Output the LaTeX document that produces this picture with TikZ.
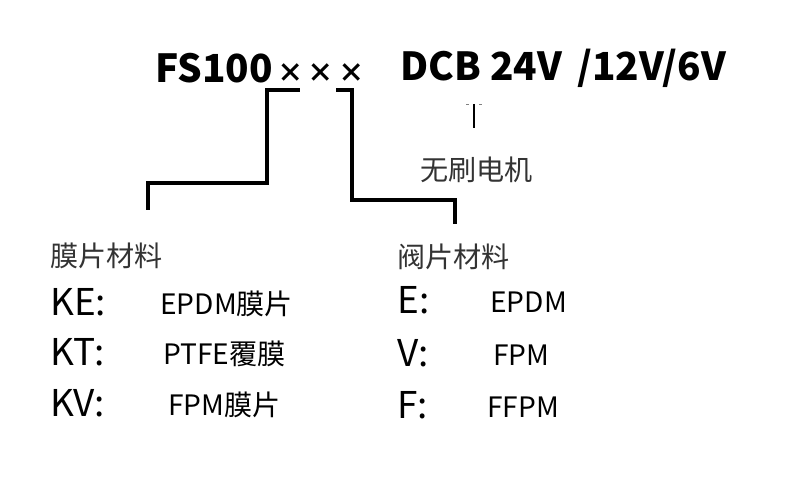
\documentclass[tikz,border=0pt]{standalone}
\usepackage{fontspec}
\setmainfont{Noto Sans CJK SC}
\usetikzlibrary{positioning,calc}
\newcommand{\smx}{{\fontsize{15}{16}\selectfont\,×}}
\begin{document}
\begin{tikzpicture}[x=0.02cm,y=-0.02cm,
    title/.style={anchor=west,inner sep=0pt,font=\fontsize{22}{24}\selectfont\bfseries},
    head/.style={anchor=west,inner sep=0pt,font=\fontsize{16}{18}\selectfont,text=black!80},
    code/.style={anchor=west,inner sep=0pt,font=\fontsize{21}{23}\selectfont},
    val/.style={anchor=west,inner sep=0pt,font=\fontsize{16}{18}\selectfont},
    wire/.style={line width=2.2pt,line cap=rect}]
    % frame
    \useasboundingbox (0,0) rectangle (789,483);

    % title
    \node[title] (model) at (155,68) {FS100\smx\smx\smx};
    \node[title] (volt) at (400,68) {DCB 24V\, /12V/6V};

    % leaders
    \coordinate (lA) at (298,90);
    \coordinate (lB) at (148,208);
    \coordinate (rA) at (338,90);
    \coordinate (rB) at (455,222);
    \draw[wire] (lA) -- (267,90) -- (267,183) -- (148,183) -- (lB);
    \draw[wire] (rA) -- (352,90) -- (352,200) -- (455,200) -- (rB);
    \coordinate (mA) at (474,104);
    \coordinate (mB) at (474,128);
    \draw[line width=1.2pt] (mA) -- (mB);
    \draw[line width=0.5pt,gray] (466,104) -- (469,104) (479,104) -- (482,104);
    \node[head,anchor=north west] (motor) at (420,157) {无刷电机};

    % membrane
    \node[head] (mem) at (50,256) {膜片材料};
    \node[code] (ke) at (50,302) {KE:};
    \node[code] (kt) at (50,352) {KT:};
    \node[code] (kv) at (50,403) {KV:};
    \node[val] (kev) at (160,304) {EPDM膜片};
    \node[val] (ktv) at (163,354) {PTFE覆膜};
    \node[val] (kvv) at (168,405) {FPM膜片};

    % valve
    \node[head] (valve) at (397,257) {阀片材料};
    \node[code] (e) at (397,300) {E:};
    \node[code] (v) at (397,353) {V:};
    \node[code] (f) at (397,405) {F:};
    \node[val] (ev) at (490,302) {EPDM};
    \node[val] (vv) at (493,355) {FPM};
    \node[val] (fv) at (487,407) {FFPM};
\end{tikzpicture}
\end{document}
